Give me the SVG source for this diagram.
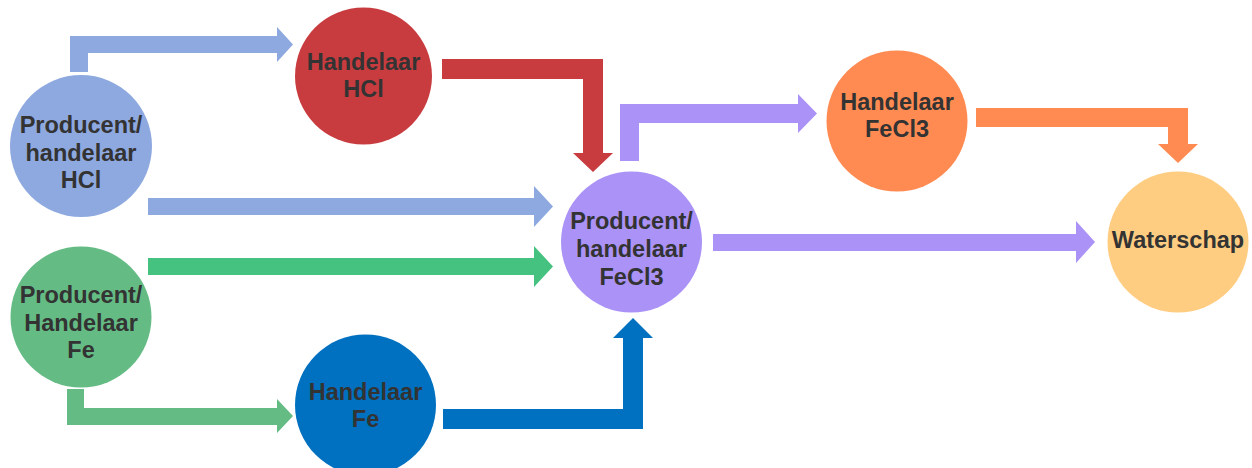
<svg xmlns="http://www.w3.org/2000/svg" width="1252" height="468" viewBox="0 0 1252 468">
<style>
text{font-family:"Liberation Sans",Arial,sans-serif;font-weight:bold;font-size:23.5px;fill:#333333;text-anchor:middle}
</style>
<rect width="1252" height="468" fill="#ffffff"/>
<g id="connectors">
<polygon id="a1" fill="#8EA9E0" points="70,72 70,36 277,36 277,27 293,44.5 277,62 277,53 88,53 88,72"/>
<polygon id="a2" fill="#C83C3F" points="442,59 603,59 603,153 613,153 593,172 573,153 583,153 583,79 442,79"/>
<polygon id="a3" fill="#8EA9E0" points="148,198 534,198 534,186 553,206.5 534,227 534,215 148,215"/>
<polygon id="a4" fill="#45C27F" points="148,258 534,258 534,246 553,266.5 534,287 534,275 148,275"/>
<polygon id="a5" fill="#64BC84" points="67,389 84,389 84,408 277,408 277,399 293,416 277,433 277,425 67,425"/>
<polygon id="a6" fill="#0070C0" points="443,409 623,409 623,338 613,338 633,318 653,338 643,338 643,429 443,429"/>
<polygon id="a7" fill="#AA92F6" points="620,161 620,104 798,104 798,94 817,113.5 798,133 798,123 639,123 639,161"/>
<polygon id="a8" fill="#AA92F6" points="713,234 1076,234 1076,221 1095,242 1076,263 1076,251 713,251"/>
<polygon id="a9" fill="#FF8B52" points="976,108 1188,108 1188,144 1198,144 1178,163 1158,144 1168,144 1168,127 976,127"/>
</g>
<g id="producent-hcl">
<circle cx="81" cy="146" r="71" fill="#8EA9E0"/>
<text x="81" y="133">Producent/</text>
<text x="81" y="161">handelaar</text>
<text x="81" y="188">HCl</text>
</g>
<g id="handelaar-hcl">
<circle cx="363.5" cy="76" r="68.5" fill="#C83C3F"/>
<text x="363.5" y="70">Handelaar</text>
<text x="363.5" y="97">HCl</text>
</g>
<g id="producent-fe">
<circle cx="81" cy="317" r="70.5" fill="#64BC84"/>
<text x="81" y="303">Producent/</text>
<text x="81" y="331">Handelaar</text>
<text x="81" y="358">Fe</text>
</g>
<g id="handelaar-fe">
<circle cx="365.5" cy="405" r="70.5" fill="#0070C0"/>
<text x="365.5" y="400">Handelaar</text>
<text x="365.5" y="427">Fe</text>
</g>
<g id="producent-fecl3">
<circle cx="631.5" cy="242" r="70.5" fill="#AA92F6"/>
<text x="631.5" y="229">Producent/</text>
<text x="631.5" y="257">handelaar</text>
<text x="631.5" y="285">FeCl3</text>
</g>
<g id="handelaar-fecl3">
<circle cx="897" cy="121" r="70.5" fill="#FF8B52"/>
<text x="897" y="110">Handelaar</text>
<text x="897" y="137">FeCl3</text>
</g>
<g id="waterschap">
<circle cx="1178" cy="242" r="70.5" fill="#FFCD82"/>
<text x="1178" y="248">Waterschap</text>
</g>
</svg>
